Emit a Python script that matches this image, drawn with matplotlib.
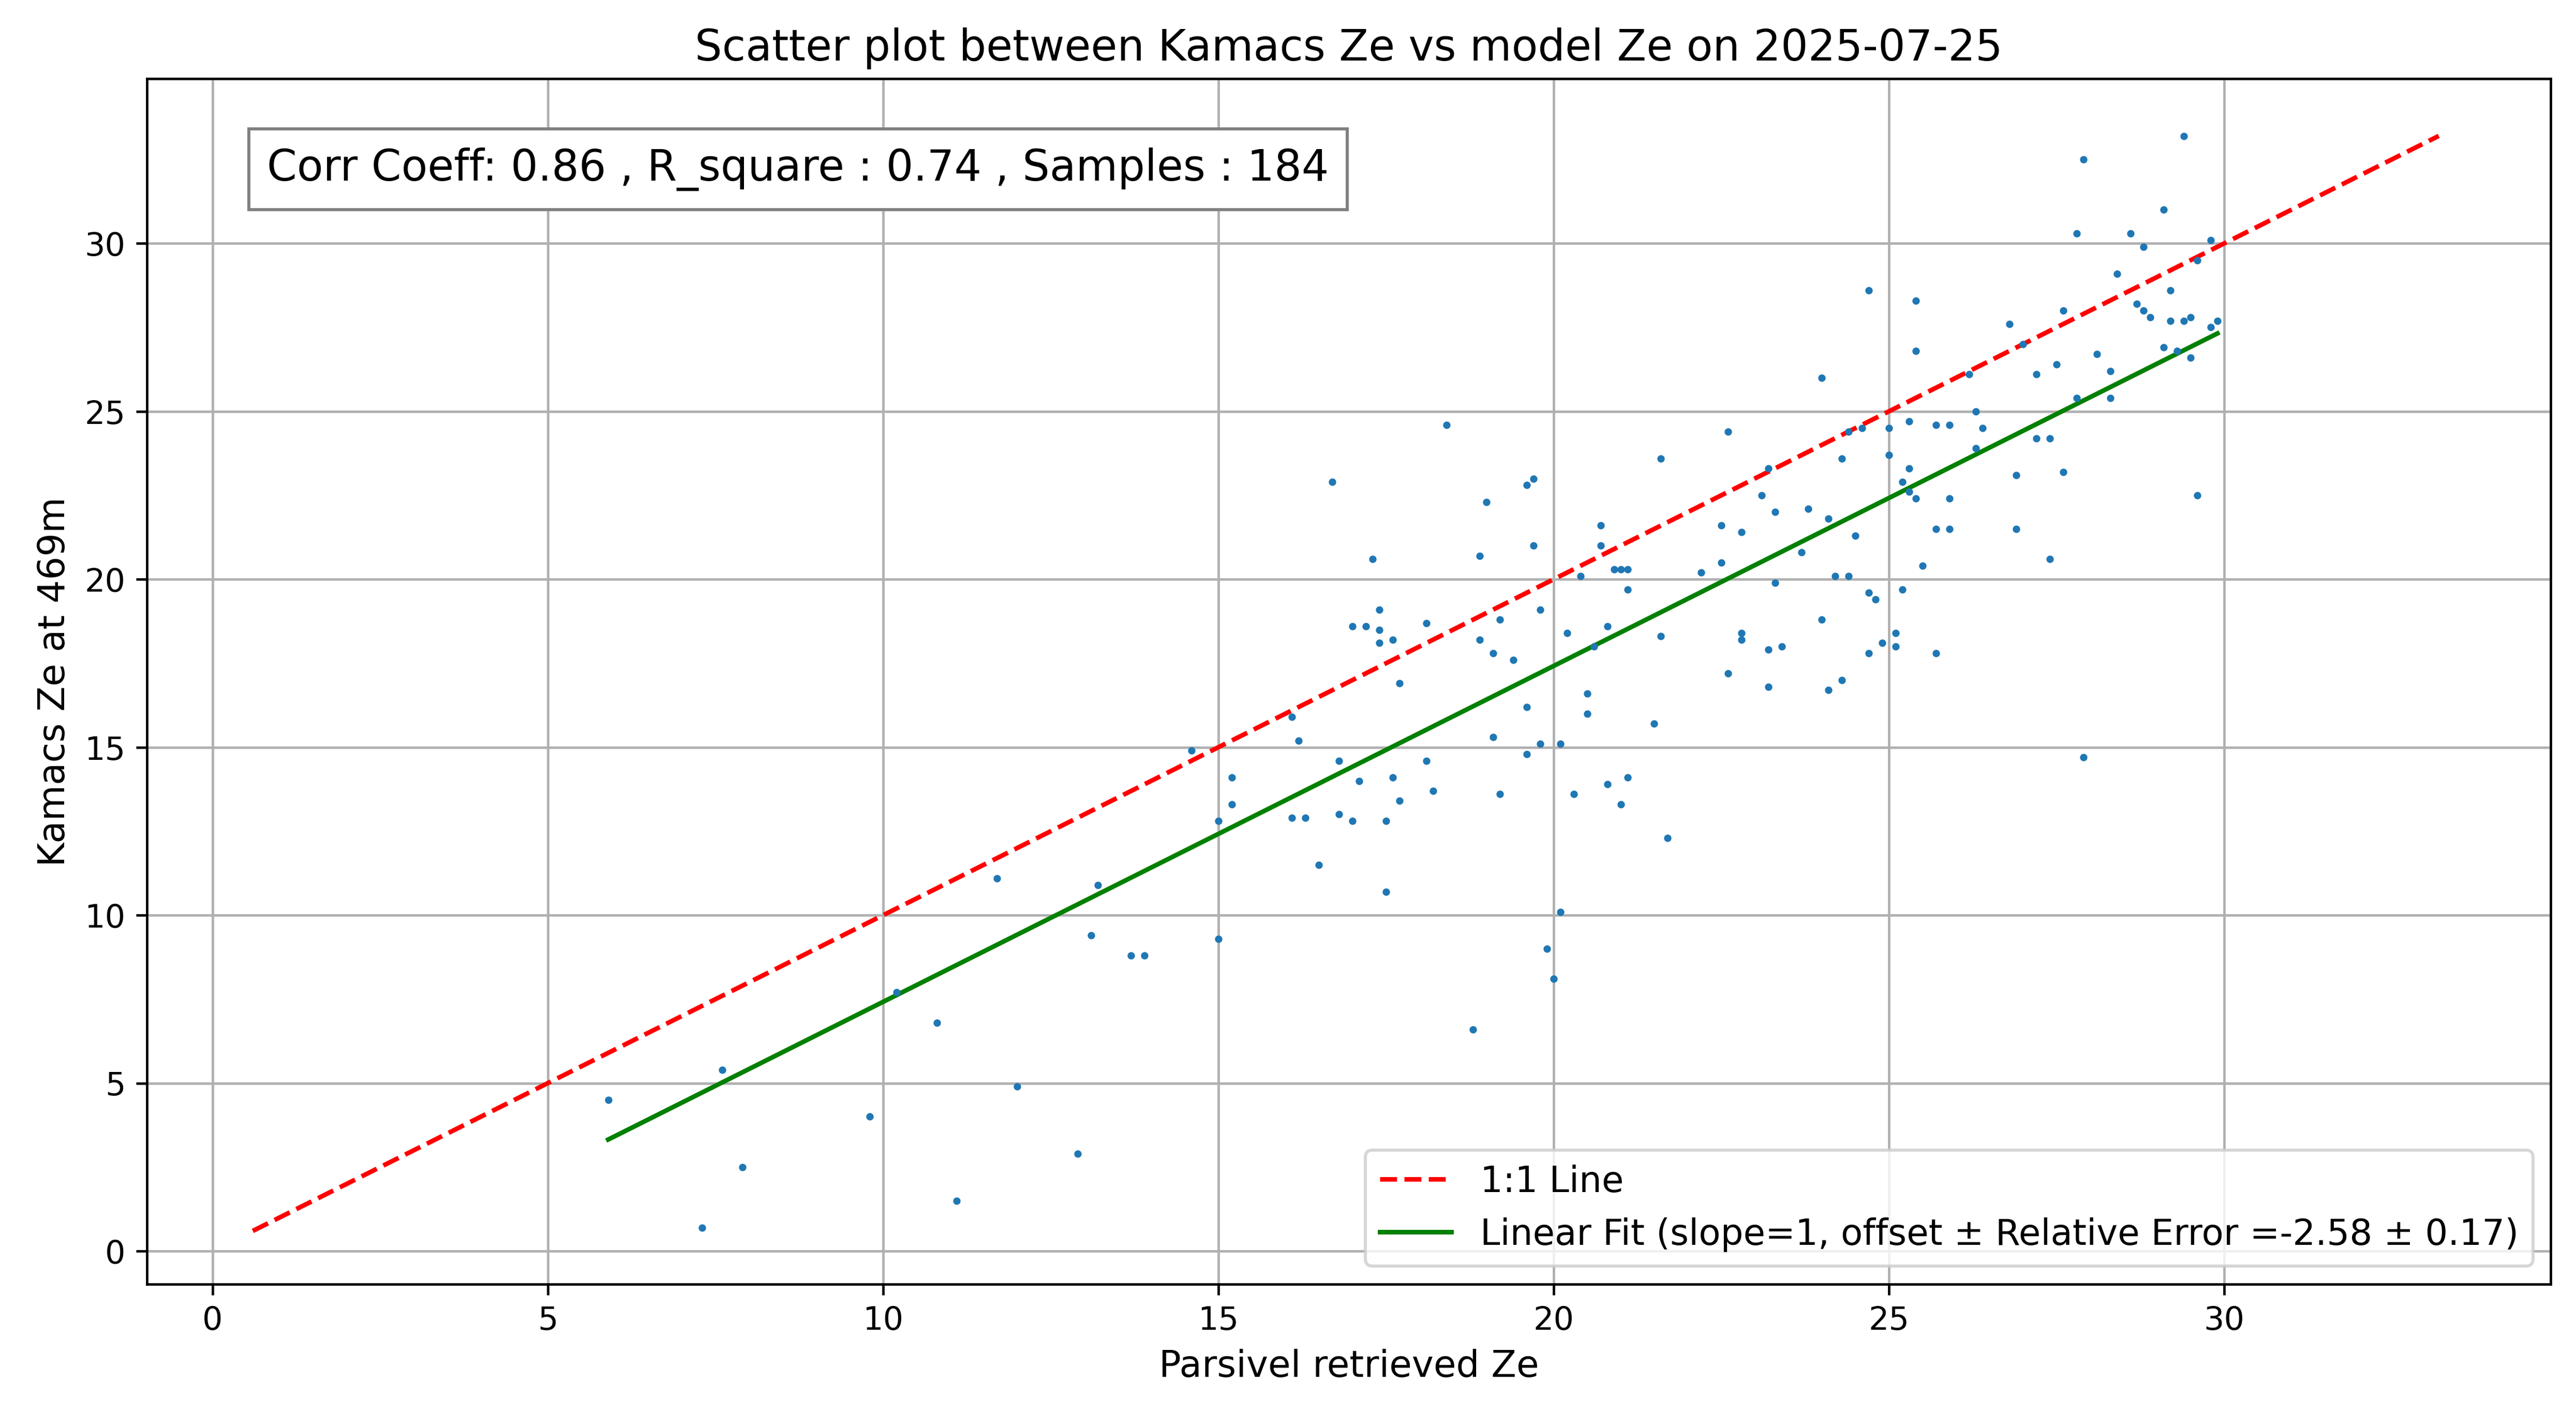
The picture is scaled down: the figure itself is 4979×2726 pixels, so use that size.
import matplotlib
matplotlib.use("Agg")
import matplotlib.pyplot as plt
import numpy as np

pts = [(5.9,4.5),(7.6,5.4),(7.3,0.7),(7.9,2.5),(9.8,4.0),(10.2,7.7),(10.8,6.8),(11.1,1.5),(11.7,11.1),(12.0,4.9),
(12.9,2.9),(13.1,9.4),(13.2,10.9),(13.7,8.8),(13.9,8.8),(14.6,14.9),(15.0,12.8),(15.0,9.3),(15.2,14.1),(15.2,13.3),
(16.1,15.9),(16.1,12.9),(16.2,15.2),(16.3,12.9),(16.5,11.5),(16.7,22.9),(16.8,14.6),(16.8,13.0),(17.0,18.6),(17.0,12.8),
(17.1,14.0),(17.2,18.6),(17.3,20.6),(17.4,18.5),(17.4,19.1),(17.4,18.1),(17.5,12.8),(17.5,10.7),(17.6,14.1),(17.6,18.2),
(17.7,16.9),(17.7,13.4),(18.1,18.7),(18.1,14.6),(18.2,13.7),(18.4,24.6),(18.8,6.6),(18.9,20.7),(18.9,18.2),(19.0,22.3),
(19.1,17.8),(19.1,15.3),(19.2,18.8),(19.2,13.6),(19.4,17.6),(19.6,16.2),(19.6,14.8),(19.6,22.8),(19.7,23.0),(19.7,21.0),
(19.8,19.1),(19.8,15.1),(19.9,9.0),(20.0,8.1),(20.1,15.1),(20.1,10.1),(20.2,18.4),(20.3,13.6),(20.4,20.1),(20.5,16.0),
(20.5,16.6),(20.6,18.0),(20.7,21.0),(20.7,21.6),(20.8,13.9),(20.8,18.6),(20.9,20.3),(21.0,13.3),(21.0,20.3),(21.1,19.7),
(21.1,14.1),(21.1,20.3),(21.5,15.7),(21.6,23.6),(21.6,18.3),(21.7,12.3),(22.2,20.2),(22.5,20.5),(22.5,21.6),(22.6,24.4),
(22.6,17.2),(22.8,18.4),(22.8,18.2),(22.8,21.4),(23.1,22.5),(23.2,16.8),(23.2,23.3),(23.3,19.9),(23.3,22.0),(23.2,17.9),
(23.4,18.0),(23.7,20.8),(23.8,22.1),(24.0,26.0),(24.0,18.8),(24.1,21.8),(24.1,16.7),(24.2,20.1),(24.3,17.0),(24.3,23.6),
(24.4,24.4),(24.4,20.1),(24.5,21.3),(24.6,24.5),(24.7,28.6),(24.7,19.6),(24.7,17.8),(24.8,19.4),(24.9,18.1),(25.0,24.5),
(25.0,23.7),(25.1,18.4),(25.1,18.0),(25.2,19.7),(25.2,22.9),(25.3,23.3),(25.3,24.7),(25.3,22.6),(25.4,28.3),(25.4,26.8),
(25.4,22.4),(25.5,20.4),(25.7,17.8),(25.7,21.5),(25.7,24.6),(25.9,24.6),(25.9,22.4),(25.9,21.5),(26.2,26.1),(26.3,25.0),
(26.3,23.9),(26.4,24.5),(26.8,27.6),(26.9,23.1),(26.9,21.5),(27.0,27.0),(27.2,26.1),(27.2,24.2),(27.4,24.2),(27.4,20.6),
(27.5,26.4),(27.6,28.0),(27.6,23.2),(27.8,25.4),(27.8,30.3),(27.9,32.5),(27.9,14.7),(28.1,26.7),(28.3,26.2),(28.3,25.4),
(28.4,29.1),(28.6,30.3),(28.7,28.2),(28.8,29.9),(28.8,28.0),(28.9,27.8),(29.1,31.0),(29.1,26.9),(29.2,27.7),(29.2,28.6),
(29.3,26.8),(29.4,33.2),(29.4,27.7),(29.5,26.6),(29.5,27.8),(29.6,29.5),(29.6,22.5),(29.8,27.5),(29.8,30.1),(29.9,27.7)]
parsivel = np.array([p[0] for p in pts])
kamacs = np.array([p[1] for p in pts])
line_min, line_max = 0.6, 33.2
offset, err = -2.58, 0.17

fig = plt.figure(figsize=(11.69, 6.40), dpi=426)
ax = fig.add_axes([0.057, 0.09, 0.933, 0.854])
ax.scatter(parsivel, kamacs, s=2, color='#1f77b4', zorder=3)
ax.plot([line_min, line_max], [line_min, line_max], 'r--', lw=1.5, label='1:1 Line')
xf = np.array([parsivel.min(), parsivel.max()])
ax.plot(xf, xf + offset, color='green', lw=1.5,
        label=f'Linear Fit (slope=1, offset ± Relative Error ={offset} ± {err})')
ax.grid(True)
ax.set_xlim(-0.98, 34.87)
ax.set_ylim(-0.98, 34.9)
ax.tick_params(labelsize=10.5)
ax.set_xlabel('Parsivel retrieved Ze', fontsize=12)
ax.set_ylabel('Kamacs Ze at 469m', fontsize=12)
ax.set_title('Scatter plot between Kamacs Ze vs model Ze on 2025-07-25', fontsize=14)
ax.text(0.05, 0.925, 'Corr Coeff: 0.86 , R_square : 0.74 , Samples : 184', transform=ax.transAxes,
        fontsize=14, va='center', bbox=dict(facecolor='white', edgecolor='gray', pad=6))
ax.legend(loc='lower right', fontsize=11.7)
fig.savefig('out.png', dpi=426)
